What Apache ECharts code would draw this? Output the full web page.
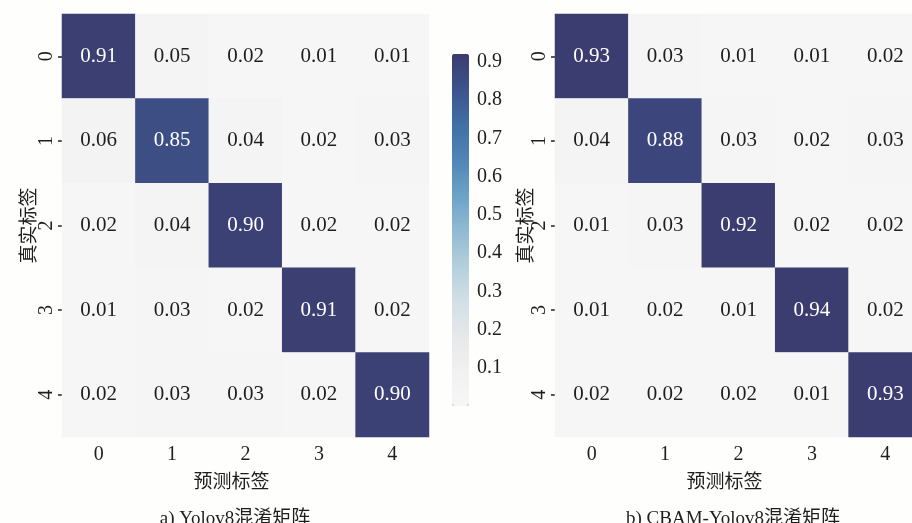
<!DOCTYPE html>
<html>
<head>
<meta charset="utf-8">
<script src="https://cdn.jsdelivr.net/npm/echarts@6/dist/echarts.min.js"></script>
<style>
  html, body { margin: 0; padding: 0; background: #fefefc; overflow: hidden; }
  #chart { width: 912px; height: 523px; }
</style>
</head>
<body>
<div id="chart"></div>
<script>
// Class labels shared by both confusion matrices
const classes = ['0', '1', '2', '3', '4'];

// Row = true label, column = predicted label
const yolov8Matrix = [
  [0.91, 0.05, 0.02, 0.01, 0.01],
  [0.06, 0.85, 0.04, 0.02, 0.03],
  [0.02, 0.04, 0.90, 0.02, 0.02],
  [0.01, 0.03, 0.02, 0.91, 0.02],
  [0.02, 0.03, 0.03, 0.02, 0.90]
];
const cbamYolov8Matrix = [
  [0.93, 0.03, 0.01, 0.01, 0.02],
  [0.04, 0.88, 0.03, 0.02, 0.03],
  [0.01, 0.03, 0.92, 0.02, 0.02],
  [0.01, 0.02, 0.01, 0.94, 0.02],
  [0.02, 0.02, 0.02, 0.01, 0.93]
];

// Colour bar range and its tick values
const colorMin = 0;
const colorMax = 0.92;
const colorbarTicks = [0.1, 0.2, 0.3, 0.4, 0.5, 0.6, 0.7, 0.8, 0.9];

const titles = ['a) Yolov8混淆矩阵', 'b) CBAM-Yolov8混淆矩阵'];
const xName = '预测标签';
const yName = '真实标签';

const SERIF = '"Liberation Serif", "Times New Roman", "Noto Sans CJK SC", serif';
const TEXT = '#1e1e1e';

function toCells(matrix) {
  const cells = [];
  matrix.forEach((row, r) => {
    row.forEach((v, c) => {
      cells.push({
        value: [c, r, v],
        label: { color: v > 0.5 ? '#ffffff' : TEXT }
      });
    });
  });
  return cells;
}

function xAxisFor(idx) {
  return {
    type: 'category', gridIndex: idx, data: classes,
    name: xName, nameLocation: 'middle', nameGap: 37, nameMoveOverlap: false,
    nameTextStyle: { fontFamily: SERIF, fontSize: 19, color: TEXT, padding: [0, 28, 0, 0] },
    axisLine: { show: false },
    axisTick: { show: true, inside: true, length: 4, alignWithLabel: true,
                lineStyle: { color: '#222', width: 1.5 } },
    axisLabel: { fontFamily: SERIF, fontSize: 20, color: TEXT, margin: 8 },
    splitLine: { show: false }, splitArea: { show: false }
  };
}

function yAxisFor(idx, gap) {
  return {
    type: 'category', gridIndex: idx, data: classes, inverse: true,
    name: yName, nameLocation: 'middle', nameGap: gap, nameRotate: 90, nameMoveOverlap: false,
    nameTextStyle: { fontFamily: SERIF, fontSize: 19, color: TEXT },
    axisLine: { show: false },
    axisTick: { show: true, length: 4, alignWithLabel: true,
                lineStyle: { color: '#222', width: 1.5 } },
    axisLabel: { fontFamily: SERIF, fontSize: 20, color: TEXT, rotate: 90, margin: 5 },
    splitLine: { show: false }, splitArea: { show: false }
  };
}

function heatSeries(idx, matrix) {
  return {
    type: 'heatmap', xAxisIndex: idx, yAxisIndex: idx,
    data: toCells(matrix),
    label: {
      show: true, fontFamily: SERIF, fontSize: 21,
      formatter: p => p.value[2].toFixed(2)
    },
    itemStyle: { borderWidth: 0 },
    emphasis: { disabled: true }
  };
}

const chart = echarts.init(document.getElementById('chart'), null, { renderer: 'canvas' });

chart.setOption({
  backgroundColor: '#fefefc',
  animation: false,
  title: [
    { text: titles[0], left: 230, top: 505, textAlign: 'center',
      textStyle: { fontFamily: SERIF, fontSize: 19, fontWeight: 'normal', color: TEXT } },
    { text: titles[1], left: 728, top: 505, textAlign: 'center',
      textStyle: { fontFamily: SERIF, fontSize: 19, fontWeight: 'normal', color: TEXT } }
  ],
  grid: [
    { left: 62, top: 14, width: 367, height: 423, outerBoundsMode: 'none' },
    // second matrix runs past the right edge of the canvas
    { left: 555, top: 14, width: 367, height: 423, outerBoundsMode: 'none' },
    // axis that carries the colour bar ticks
    { left: 452, top: 61.7, width: 17, height: 306.3, outerBoundsMode: 'none' }
  ],
  xAxis: [
    xAxisFor(0),
    xAxisFor(1),
    { type: 'value', gridIndex: 2, show: false, min: 0, max: 1 }
  ],
  yAxis: [
    yAxisFor(0, 22),
    yAxisFor(1, 18),
    {
      type: 'value', gridIndex: 2, position: 'right',
      min: colorbarTicks[0], max: colorbarTicks[colorbarTicks.length - 1], interval: 0.1,
      axisLine: { show: false },
      splitLine: { show: false },
      axisTick: { show: true, length: 4, lineStyle: { color: '#222', width: 1.5 } },
      axisLabel: { fontFamily: SERIF, fontSize: 20, color: TEXT, margin: 8,
                   formatter: v => v.toFixed(1) }
    }
  ],
  visualMap: {
    type: 'continuous',
    seriesIndex: [0, 1],
    min: colorMin, max: colorMax,
    calculable: false,
    orient: 'vertical',
    left: 452, top: 54,
    padding: 0,
    itemWidth: 17, itemHeight: 352,
    hoverLink: false,
    inRange: {
      color: ['#f7f7f7', '#f1f1f1', '#e6e8e9', '#d1dfe5', '#b3cfdc', '#8fbad3',
              '#6ba2c7', '#5185b5', '#4070a5', '#3d538c', '#3b3c6f']
    },
    outOfRange: { color: '#3b3c6f' }
  },
  series: [
    heatSeries(0, yolov8Matrix),
    heatSeries(1, cbamYolov8Matrix)
  ]
});
</script>
</body>
</html>
